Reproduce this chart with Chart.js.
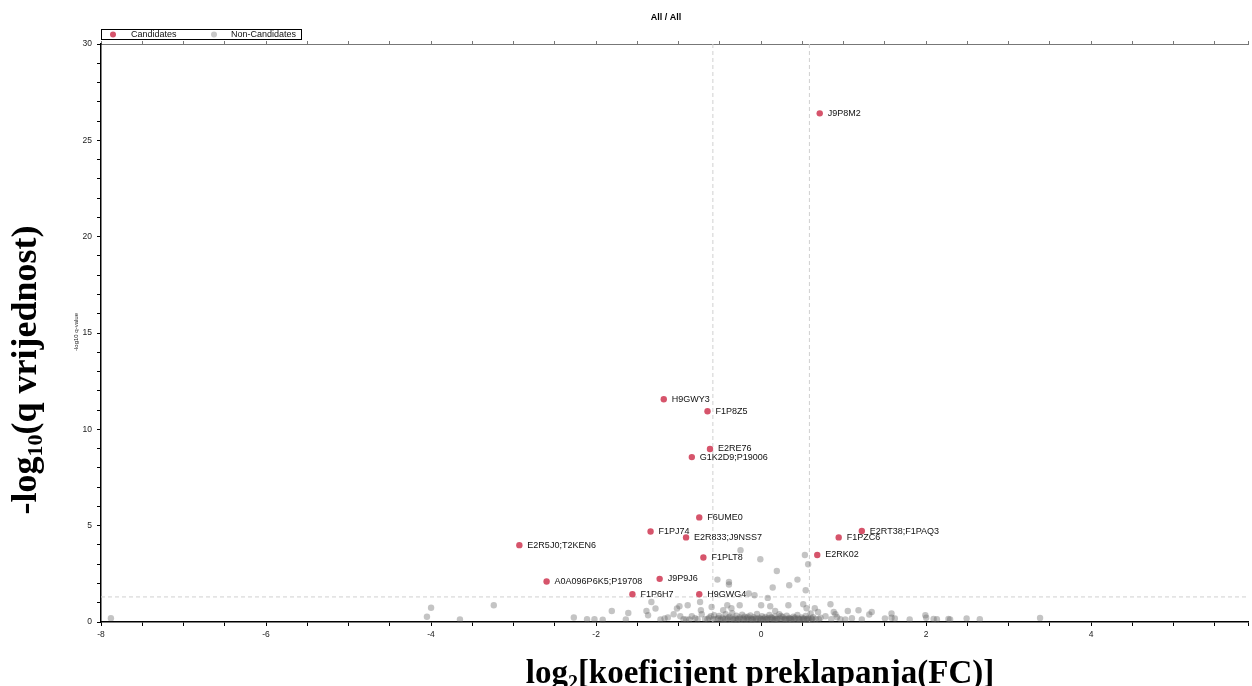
<!DOCTYPE html>
<html>
<head>
<meta charset="utf-8">
<title>All / All</title>
<script src="https://cdn.jsdelivr.net/npm/chart.js@4.4.0/dist/chart.umd.min.js"></script>
<style>
  html, body { margin: 0; padding: 0; background: #fff; }
  #wrap { width: 1252px; height: 686px; position: relative; }
</style>
</head>
<body>
<div id="wrap"><canvas id="volcano"></canvas></div>
<script>
// candidates (red, labelled)
const candLabels = ['J9P8M2', 'H9GWY3', 'F1P8Z5', 'E2RE76', 'G1K2D9;P19006', 'F6UME0', 'F1PJ74',
  'E2R833;J9NSS7', 'E2R5J0;T2KEN6', 'F1PLT8', 'E2RK02', 'F1PZC6', 'E2RT38;F1PAQ3',
  'A0A096P6K5;P19708', 'J9P9J6', 'F1P6H7', 'H9GWG4'];
const candFC = [0.71, -1.18, -0.65, -0.62, -0.84, -0.75, -1.34, -0.91, -2.93, -0.70, 0.68, 0.94, 1.22,
  -2.60, -1.23, -1.56, -0.75];
const candQ = [26.40, 11.56, 10.94, 8.98, 8.56, 5.43, 4.70, 4.39, 3.99, 3.35, 3.48, 4.39, 4.72,
  2.10, 2.24, 1.44, 1.44];

// non-candidates [log2 FC, -log10 q]
const nonCand = [
  [-7.88, 0.20], [-4.05, 0.27], [-4.00, 0.74], [-3.65, 0.13], [-3.24, 0.87], [-2.27, 0.23], [-2.11, 0.14],
  [-2.02, 0.14], [-1.92, 0.12], [-1.81, 0.57], [-1.64, 0.13], [-1.61, 0.47], [-1.39, 0.57], [-1.37, 0.35],
  [-1.33, 1.04], [-1.28, 0.70], [-1.22, 0.13], [-1.17, 0.19], [-1.13, 0.24], [-1.06, 0.40], [-1.02, 0.70],
  [-0.99, 0.82], [-0.98, 0.30], [-0.89, 0.87], [-0.87, 0.13], [-0.80, 0.20], [-0.74, 1.04], [-0.73, 0.61],
  [-0.72, 0.40], [-0.68, 0.15], [-0.60, 0.78], [-0.61, 0.30], [-0.53, 2.20], [-0.46, 0.61], [-0.41, 0.87],
  [-0.39, 2.08], [-0.39, 1.95], [-0.36, 0.71], [-0.26, 0.87], [-0.25, 3.73], [-0.15, 1.48], [-0.08, 1.39],
  [-0.01, 3.26], [0.00, 0.87], [0.08, 1.25], [0.11, 0.82], [0.14, 1.79], [0.17, 0.57], [0.19, 2.65],
  [0.33, 0.87], [0.34, 1.91], [0.44, 2.20], [0.51, 0.92], [0.53, 3.48], [0.54, 1.65], [0.55, 0.71],
  [0.57, 3.00], [0.65, 0.71], [0.69, 0.52], [0.72, 0.22], [0.84, 0.92], [0.88, 0.52], [0.90, 0.40],
  [1.05, 0.57], [1.18, 0.61], [1.31, 0.39], [1.34, 0.52], [1.50, 0.19], [1.58, 0.44], [1.58, 0.22],
  [1.62, 0.18], [1.80, 0.13], [1.99, 0.35], [2.00, 0.22], [2.09, 0.16], [2.13, 0.14], [2.27, 0.16],
  [2.29, 0.13], [2.49, 0.18], [2.65, 0.14], [3.38, 0.21], [0.96, 0.15], [1.02, 0.13], [0.78, 0.30],
  [0.92, 0.25], [0.85, 0.14], [1.10, 0.20], [1.22, 0.13], [0.70, 0.14],
  [-0.54, 0.16], [-0.51, 0.31], [-0.49, 0.13], [-0.47, 0.22], [-0.44, 0.15], [-0.43, 0.40], [-0.41, 0.13],
  [-0.38, 0.27], [-0.37, 0.17], [-0.35, 0.46], [-0.33, 0.13], [-0.31, 0.19], [-0.30, 0.33], [-0.28, 0.14],
  [-0.26, 0.24], [-0.25, 0.16], [-0.23, 0.38], [-0.21, 0.13], [-0.20, 0.28], [-0.18, 0.15], [-0.17, 0.21],
  [-0.15, 0.13], [-0.13, 0.34], [-0.12, 0.17], [-0.10, 0.14], [-0.09, 0.25], [-0.07, 0.15], [-0.05, 0.42],
  [-0.04, 0.13], [-0.02, 0.21], [-0.01, 0.16], [0.01, 0.30], [0.02, 0.13], [0.04, 0.18], [0.05, 0.26],
  [0.07, 0.14], [0.08, 0.20], [0.10, 0.36], [0.11, 0.14], [0.13, 0.22], [0.14, 0.16], [0.16, 0.13],
  [0.17, 0.29], [0.19, 0.17], [0.20, 0.14], [0.22, 0.41], [0.23, 0.19], [0.25, 0.15], [0.26, 0.26],
  [0.28, 0.13], [0.29, 0.17], [0.31, 0.33], [0.33, 0.14], [0.34, 0.21], [0.36, 0.16], [0.37, 0.13],
  [0.39, 0.27], [0.40, 0.17], [0.42, 0.14], [0.44, 0.37], [0.45, 0.18], [0.47, 0.15], [0.49, 0.24],
  [0.50, 0.13], [0.52, 0.16], [0.54, 0.31], [0.55, 0.14], [0.57, 0.20], [0.58, 0.15], [0.60, 0.44],
  [0.62, 0.13], [0.63, 0.25], [0.66, 0.16], [-0.52, 0.20], [-0.46, 0.14], [-0.40, 0.22], [-0.34, 0.15],
  [-0.29, 0.13], [-0.22, 0.18], [-0.16, 0.27], [-0.11, 0.13], [-0.06, 0.19], [0.00, 0.15], [0.06, 0.13],
  [0.12, 0.24], [0.18, 0.14], [0.24, 0.32], [0.30, 0.14], [0.35, 0.17], [0.41, 0.22], [0.46, 0.13],
  [0.51, 0.18], [0.56, 0.13], [0.61, 0.18], [-0.65, 0.14], [-0.63, 0.22], [-0.58, 0.15], [-0.57, 0.35],
  [-0.94, 0.14], [-0.91, 0.13], [-0.84, 0.30], [-0.77, 0.14]
];

// axis ranges and cut-offs
const fcRange = [-8, 5.9];
const qRange = [0, 30];
const fcCut = 0.585;   // log2(1.5)
const qCut = 1.301;    // -log10(0.05)

const titleText = 'All / All';
const legendNames = ['Candidates', 'Non-Candidates'];

const RED = '#d6546b';
const GREY = 'rgba(95,95,95,0.37)';
const SANS = '"Liberation Sans", Arial, sans-serif';
const SERIF = '"Liberation Serif", "Times New Roman", serif';

function cutLine(pts) {
  return {
    data: pts, showLine: true, pointRadius: 0, borderColor: '#d0d0d0',
    borderWidth: 1, borderDash: [4, 3], clip: false
  };
}

// rich text with one subscript, centred on x
function drawRich(ctx, parts, x, y, size) {
  const subSize = Math.round(size * 0.62);
  let total = 0;
  parts.forEach(p => {
    ctx.font = 'bold ' + (p[1] ? subSize : size) + 'px ' + SERIF;
    p.w = ctx.measureText(p[0]).width;
    total += p.w;
  });
  let cx = x - total / 2;
  ctx.textAlign = 'left';
  ctx.textBaseline = 'alphabetic';
  parts.forEach(p => {
    ctx.font = 'bold ' + (p[1] ? subSize : size) + 'px ' + SERIF;
    ctx.fillText(p[0], cx, y + (p[1] ? size * 0.18 : 0));
    cx += p.w;
  });
}

const decor = {
  id: 'decor',
  afterDatasetsDraw(chart) {
    const ctx = chart.ctx;
    const meta = chart.getDatasetMeta(0);
    ctx.save();
    ctx.font = '9px ' + SANS;
    ctx.fillStyle = '#111';
    ctx.textAlign = 'left';
    ctx.textBaseline = 'middle';
    meta.data.forEach((pt, i) => ctx.fillText(candLabels[i], pt.x + 8, pt.y));
    ctx.restore();
  },
  afterDraw(chart) {
    const ctx = chart.ctx;
    const a = chart.chartArea;
    ctx.save();
    ctx.fillStyle = '#000';

    // title
    ctx.font = 'bold 9px ' + SANS;
    ctx.textAlign = 'center';
    ctx.textBaseline = 'middle';
    ctx.fillText(titleText, 666, 18);

    // legend box
    const lx = a.left, ly = a.top - 15;
    ctx.strokeStyle = '#000';
    ctx.lineWidth = 1;
    ctx.strokeRect(lx + 0.5, ly + 0.5, 200, 10);
    ctx.font = '9px ' + SANS;
    ctx.textAlign = 'left';
    ctx.fillStyle = RED;
    ctx.beginPath(); ctx.arc(lx + 12, ly + 5.5, 3, 0, Math.PI * 2); ctx.fill();
    ctx.fillStyle = '#c8c8c8';
    ctx.beginPath(); ctx.arc(lx + 113, ly + 5.5, 3, 0, Math.PI * 2); ctx.fill();
    ctx.fillStyle = '#111';
    ctx.fillText(legendNames[0], lx + 30, ly + 6);
    ctx.fillText(legendNames[1], lx + 130, ly + 6);

    // tiny original y caption
    ctx.save();
    ctx.translate(76, 332);
    ctx.rotate(-Math.PI / 2);
    ctx.font = '6px ' + SANS;
    ctx.textAlign = 'center';
    ctx.fillStyle = '#222';
    ctx.fillText('-log10 q-value', 0, 0);
    ctx.restore();

    // big axis titles
    ctx.fillStyle = '#000';
    drawRich(ctx, [['log', false], ['2', true], ['[koeficijent preklapanja(FC)]', false]], 760, 683, 33);
    ctx.save();
    ctx.translate(29, 370);
    ctx.rotate(-Math.PI / 2);
    drawRich(ctx, [['-log', false], ['10', true], ['(q vrijednost)', false]], 0, 7, 36);
    ctx.restore();

    ctx.restore();
  }
};

const ctx = document.getElementById('volcano').getContext('2d');
new Chart(ctx, {
  type: 'scatter',
  data: {
    datasets: [
      {
        label: legendNames[0],
        data: candFC.map((v, i) => ({ x: v, y: candQ[i] })),
        backgroundColor: RED, borderWidth: 0, pointRadius: 3.2, clip: false
      },
      {
        label: legendNames[1],
        data: nonCand.map(p => ({ x: p[0], y: p[1] })),
        backgroundColor: GREY, borderWidth: 0, pointRadius: 3.2, clip: false
      },
      cutLine([{ x: -fcCut, y: qRange[0] }, { x: -fcCut, y: qRange[1] }]),
      cutLine([{ x: fcCut, y: qRange[0] }, { x: fcCut, y: qRange[1] }]),
      cutLine([{ x: fcRange[0], y: qCut }, { x: fcRange[1], y: qCut }])
    ]
  },
  options: {
    responsive: true,
    maintainAspectRatio: false,
    animation: false,
    layout: { padding: { top: 44, right: 0, bottom: 0, left: 0 } },
    plugins: { legend: { display: false }, tooltip: { enabled: false }, title: { display: false } },
    scales: {
      x: {
        type: 'linear', position: 'bottom', min: fcRange[0], max: fcRange[1],
        afterFit(s) { s.height = 64; },
        border: { color: '#000', width: 1.5 },
        grid: { drawOnChartArea: false, tickLength: 4, tickColor: '#000' },
        ticks: {
          stepSize: 0.5, autoSkip: false, maxRotation: 0, padding: 4,
          color: '#222', font: { size: 8.5, family: SANS },
          callback: v => (v % 2 === 0 ? v : '')
        }
      },
      x2: {
        type: 'linear', position: 'top', min: fcRange[0], max: fcRange[1],
        afterFit(s) { s.height = 0; },
        border: { color: '#777', width: 1 },
        grid: { drawOnChartArea: false, tickLength: 3, tickColor: '#777' },
        ticks: { display: false, stepSize: 0.5, autoSkip: false }
      },
      y: {
        type: 'linear', min: qRange[0], max: qRange[1],
        afterFit(s) { s.width = 101; },
        border: { color: '#000', width: 1.5 },
        grid: { drawOnChartArea: false, tickLength: 4, tickColor: '#000' },
        ticks: {
          stepSize: 1, autoSkip: false, padding: 5,
          color: '#222', font: { size: 8.5, family: SANS },
          callback: v => (v % 5 === 0 ? v : '')
        }
      }
    }
  },
  plugins: [decor]
});
</script>
</body>
</html>
